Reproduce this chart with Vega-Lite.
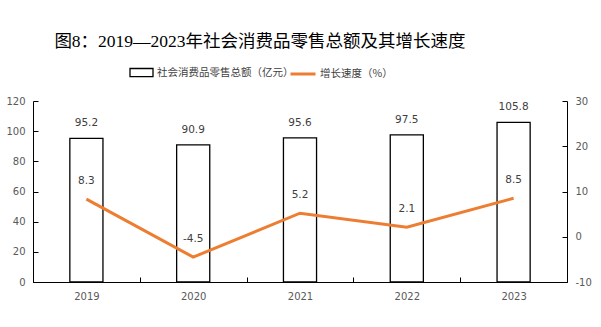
{
  "$schema": "https://vega.github.io/schema/vega-lite/v6.json",
  "width": 534,
  "height": 181,
  "autosize": "none",
  "padding": {"left": 33, "top": 101, "right": 34, "bottom": 45},
  "background": "white",
  "title": {
    "text": "图8：2019—2023年社会消费品零售总额及其增长速度",
    "font": "Liberation Serif, Noto Sans CJK SC",
    "fontSize": 17.5,
    "fontWeight": "normal",
    "color": "#000000",
    "anchor": "middle",
    "dx": -40,
    "offset": 10
  },
  "data": {
    "values": [
      {"year": "2019", "sales": 95.2, "growth": 8.3},
      {"year": "2020", "sales": 90.9, "growth": -4.5},
      {"year": "2021", "sales": 95.6, "growth": 5.2},
      {"year": "2022", "sales": 97.5, "growth": 2.1},
      {"year": "2023", "sales": 105.8, "growth": 8.5}
    ]
  },
  "encoding": {
    "x": {
      "field": "year",
      "type": "nominal",
      "sort": null,
      "scale": {"paddingInner": 0, "paddingOuter": 0},
      "axis": {
        "title": null,
        "labelAngle": 0,
        "tickBand": "extent",
        "tickSize": -5,
        "labelPadding": 14,
        "domainColor": "#000000",
        "tickColor": "#000000",
        "labelColor": "#595959",
        "labelFont": "DejaVu Sans",
        "labelFontSize": 10
      }
    }
  },
  "layer": [
    {
      "encoding": {
        "y": {
          "field": "sales",
          "type": "quantitative",
          "scale": {"domain": [0, 120], "nice": false},
          "axis": {
            "title": null,
            "values": [0, 20, 40, 60, 80, 100, 120],
            "grid": false,
            "tickSize": -5,
            "labelPadding": 13,
            "domainColor": "#000000",
            "tickColor": "#000000",
            "labelColor": "#595959",
            "labelFont": "DejaVu Sans",
            "labelFontSize": 10
          }
        }
      },
      "layer": [
        {
          "mark": {"type": "bar", "width": {"band": 0.31}, "stroke": "#000000", "strokeWidth": 1.3},
          "encoding": {
            "fill": {
              "datum": "社会消费品零售总额（亿元）",
              "type": "nominal",
              "scale": {"range": ["#ffffff"]},
              "legend": {
                "title": null,
                "orient": "none",
                "legendX": 96,
                "legendY": -41,
                "padding": 0,
                "symbolType": "M-1,-0.35H1V0.35H-1Z",
                "symbolSize": 529,
                "symbolStrokeColor": "#000000",
                "symbolStrokeWidth": 1.3,
                "symbolFillColor": "#ffffff",
                "labelFont": "Noto Sans CJK SC",
                "labelFontSize": 10.5,
                "labelColor": "#404040",
                "labelOffset": 3
              }
            }
          }
        },
        {
          "mark": {"type": "text", "baseline": "middle", "dy": -15, "font": "DejaVu Sans", "fontSize": 10.5, "color": "#404040"},
          "encoding": {"text": {"field": "sales", "type": "quantitative", "format": ".1f"}}
        }
      ]
    },
    {
      "encoding": {
        "y": {
          "field": "growth",
          "type": "quantitative",
          "scale": {"domain": [-10, 30], "nice": false, "zero": false},
          "axis": {
            "title": null,
            "orient": "right",
            "values": [-10, 0, 10, 20, 30],
            "grid": false,
            "tickSize": -5,
            "labelPadding": 13,
            "domainColor": "#000000",
            "tickColor": "#000000",
            "labelColor": "#595959",
            "labelFont": "DejaVu Sans",
            "labelFontSize": 10
          }
        }
      },
      "layer": [
        {
          "mark": {"type": "line", "strokeWidth": 3},
          "encoding": {
            "stroke": {
              "datum": "增长速度（%）",
              "type": "nominal",
              "scale": {"range": ["#ED7D31"]},
              "legend": {
                "title": null,
                "orient": "none",
                "legendX": 256,
                "legendY": -41,
                "padding": 0,
                "symbolType": "stroke",
                "symbolSize": 625,
                "symbolStrokeWidth": 3,
                "labelFont": "Noto Sans CJK SC",
                "labelFontSize": 10.5,
                "labelColor": "#404040",
                "labelOffset": 3
              }
            }
          }
        },
        {
          "mark": {"type": "text", "baseline": "middle", "dy": -18, "font": "DejaVu Sans", "fontSize": 10.5, "color": "#404040"},
          "encoding": {"text": {"field": "growth", "type": "quantitative", "format": ".1f"}}
        }
      ]
    }
  ],
  "resolve": {"scale": {"y": "independent", "fill": "independent", "stroke": "independent"}},
  "config": {
    "view": {"stroke": null},
    "locale": {"number": {"decimal": ".", "thousands": ",", "grouping": [3], "currency": ["", ""], "minus": "-"}}
  }
}
